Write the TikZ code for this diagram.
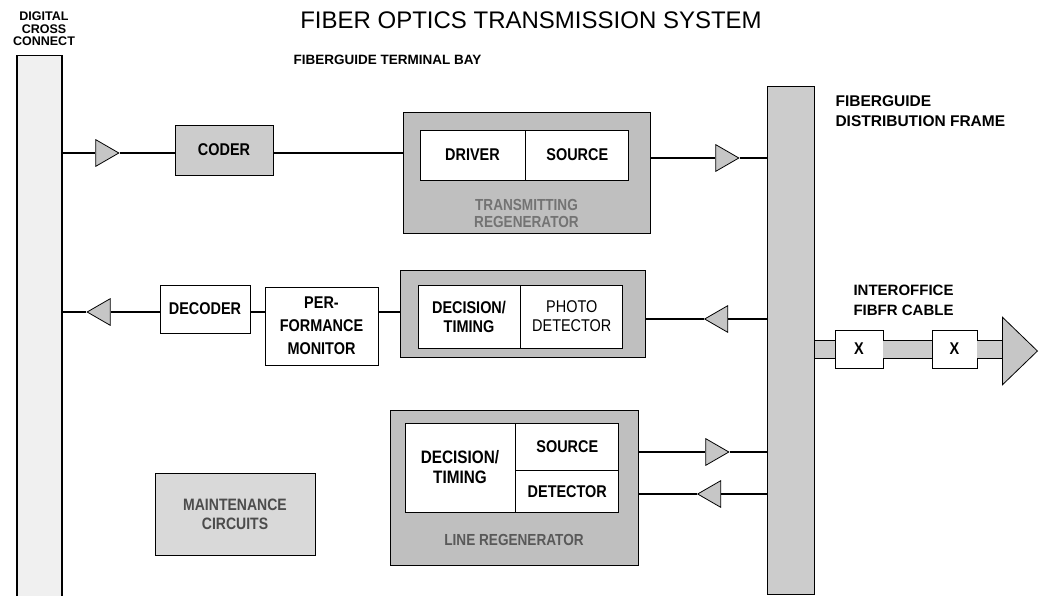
\documentclass[tikz,border=0pt]{standalone}
\usepackage{fontspec}
\setmainfont{Liberation Sans}
\newfontfamily\condfont{Liberation Sans}[FakeStretch=0.85]
\usetikzlibrary{positioning, shapes.geometric}

\tikzset{
  frame/.style={draw, line width=1pt, fill=gray!50, inner sep=0pt},
  blk/.style={draw, line width=0.8pt, fill=white, align=center, inner sep=0pt,
    font=\condfont\bfseries\fontsize{17}{19}\selectfont},
  amp/.style={isosceles triangle, isosceles triangle apex angle=60, draw,
    line width=0.8pt, fill=gray!45, inner sep=0pt, minimum height=23pt},
  wire/.style={line width=2pt},
  cable/.style={draw, line width=1pt, double=gray!40, double distance=17pt},
}

\begin{document}
\begin{tikzpicture}[x=1pt, y=-1pt]
  \useasboundingbox (0,0) rectangle (1046,596);

  % headings
  \node (title) at (531,20) {\fontsize{24}{26}\selectfont FIBER OPTICS TRANSMISSION SYSTEM};
  \node[anchor=west, font=\bfseries\fontsize{13.5}{16}\selectfont] (bay) at (290,60) {FIBERGUIDE TERMINAL BAY};
  \node[align=center, font=\bfseries\fontsize{12.5}{12.5}\selectfont] (dcclbl) at (44,29) {DIGITAL\\CROSS\\CONNECT};
  \node[anchor=west, align=left, font=\bfseries\fontsize{15.5}{20}\selectfont] (fdflbl) at (832,111) {FIBERGUIDE\\DISTRIBUTION FRAME};

  % the two bays
  \node[draw, line width=1.2pt, fill=gray!12, minimum width=45pt, minimum height=545pt, anchor=north] (dcc) at (39.5,55) {};
  \node[frame, fill=gray!40, minimum width=47pt, minimum height=507pt] (fdf) at (790.5,340.5) {};

  % transmitting side
  \node[amp] (amp1) at (103.5,153) {};
  \node[blk, fill=gray!40, minimum width=98pt, minimum height=50pt] (coder) at (224,150) {CODER};
  \node[frame, minimum width=247pt, minimum height=120pt] (tx) at (526.5,173) {};
  \node[blk, minimum width=105pt, minimum height=50pt] (driver) at (472.5,155) {DRIVER};
  \node[blk, minimum width=103pt, minimum height=50pt, right=0pt of driver] (src1) {SOURCE};
  \node[align=center, text=black!55, font=\condfont\bfseries\fontsize{16}{17}\selectfont] (txlbl) at (526.5,213.5) {TRANSMITTING\\REGENERATOR};
  \node[amp] (amp2) at (723.5,158) {};

  \draw[wire] (dcc.east |- amp1) -- (amp1.west);
  \draw[wire] (amp1.east) -- (amp1.east -| coder.west);
  \draw[wire] (coder.east |- amp1) -- (tx.west |- amp1);
  \draw[wire] (tx.east |- amp2) -- (amp2.west);
  \draw[wire] (amp2.east) -- (fdf.west |- amp2);

  % receiving side
  \node[amp, shape border rotate=180] (amp3) at (102.5,312) {};
  \node[blk, minimum width=90pt, minimum height=48pt] (dec) at (205,309) {DECODER};
  \node[blk, minimum width=113pt, minimum height=78pt, font=\condfont\bfseries\fontsize{17}{23}\selectfont] (perf) at (321.5,326) {PER-\\FORMANCE\\MONITOR};
  \node[frame, minimum width=245pt, minimum height=87pt] (rx) at (522.5,313.5) {};
  \node[blk, minimum width=102pt, minimum height=63pt] (dt2) at (469,316.5) {DECISION/\\TIMING};
  \node[blk, minimum width=102pt, minimum height=63pt, right=0pt of dt2, font=\condfont\fontsize{17}{19}\selectfont] (pd2) {PHOTO\\DETECTOR};
  \node[amp, shape border rotate=180] (amp4) at (720,319) {};

  \draw[wire] (amp3.west) -- (dcc.east |- amp3);
  \draw[wire] (dec.west |- amp3) -- (amp3.east);
  \draw[wire] (perf.west |- amp3) -- (dec.east |- amp3);
  \draw[wire] (rx.west |- amp3) -- (perf.east |- amp3);
  \draw[wire] (fdf.west |- amp4) -- (amp4.east);
  \draw[wire] (amp4.west) -- (rx.east |- amp4);

  % interoffice cable
  \node[anchor=west, align=left, font=\bfseries\fontsize{15}{20}\selectfont] (cablelbl) at (850,300) {INTEROFFICE\\FIBFR CABLE};
  \node[blk, minimum width=48pt, minimum height=38pt] (x1) at (859,349) {X};
  \node[blk, minimum width=45pt, minimum height=38pt] (x2) at (954.5,349) {X};
  \node[amp, isosceles triangle apex angle=88, minimum height=35pt, anchor=apex] (cend) at (1038,351) {};

  \draw[cable] (fdf.east |- x1) -- (x1.west);
  \draw[cable] (x1.east) -- (x2.west);
  \draw[cable] (x2.east) -- (cend.west |- x2);

  % regenerator and maintenance
  \node[frame, fill=gray!30, minimum width=160pt, minimum height=82pt, align=center,
    text=black!70, font=\condfont\bfseries\fontsize{16.5}{19}\selectfont] (maint) at (235,514) {MAINTENANCE\\CIRCUITS};
  \node[frame, minimum width=248pt, minimum height=155pt] (regen) at (514,487.5) {};
  \node[blk, minimum width=110pt, minimum height=89pt, font=\condfont\bfseries\fontsize{18}{20}\selectfont] (dt3) at (460,467.5) {DECISION/\\TIMING};
  \node[blk, minimum width=103pt, minimum height=47pt, anchor=north west] (src3) at (dt3.north east) {SOURCE};
  \node[blk, minimum width=103pt, minimum height=42pt, below=0pt of src3] (det3) {DETECTOR};
  \node[text=black!65, font=\condfont\bfseries\fontsize{16}{17}\selectfont] (rglbl) at (514,540) {LINE REGENERATOR};
  \node[amp] (amp5) at (713.5,452) {};
  \node[amp, shape border rotate=180] (amp6) at (713,494) {};

  \draw[wire] (regen.east |- amp5) -- (amp5.west);
  \draw[wire] (amp5.east) -- (fdf.west |- amp5);
  \draw[wire] (fdf.west |- amp6) -- (amp6.east);
  \draw[wire] (amp6.west) -- (regen.east |- amp6);
\end{tikzpicture}
\end{document}
